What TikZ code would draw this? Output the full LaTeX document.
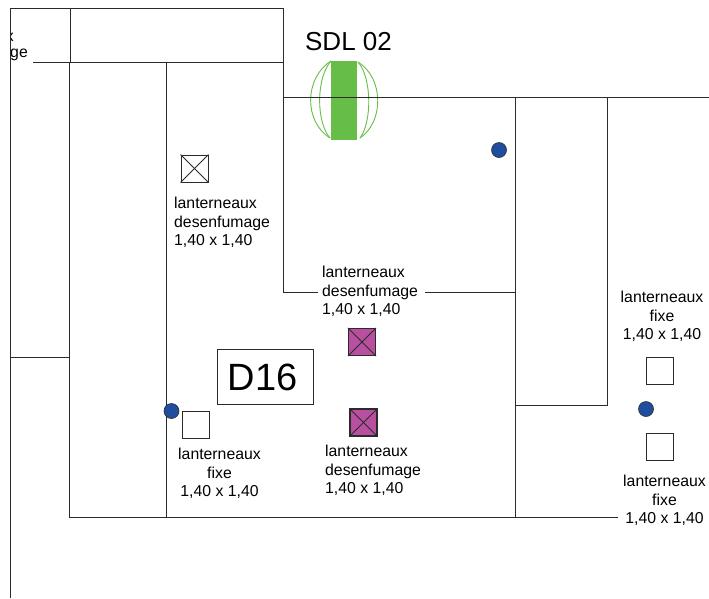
\documentclass[tikz,border=0pt]{standalone}
\usepackage{fontspec}
\setmainfont{Liberation Sans}
\definecolor{vent}{HTML}{66BD47}
\definecolor{plum}{HTML}{B8509F}
\definecolor{dotblue}{HTML}{1F4E9E}
\definecolor{wall}{HTML}{2B2B2B}
\tikzset{
    wall/.style = {draw = wall, line width = 1pt},
    roomlabel/.style = {font = \fontsize{15.8}{18.5}\selectfont, inner sep = 0pt, align = center},
    roomlabelleft/.style = {roomlabel, align = left},
    fixedbox/.style = {draw = wall, line width = 0.9pt, fill = white, minimum size = 27pt, inner sep = 0pt},
    plumbox/.style = {fixedbox, line width = 1.2pt, fill = plum},
    marker/.style = {circle, draw = wall, line width = 0.6pt, fill = dotblue, minimum size = 15pt, inner sep = 0pt},
    ventarc/.style = {draw = vent, line width = 0.9pt}
}
\begin{document}
\begin{tikzpicture}[x = 1pt, y = -1pt]
        \useasboundingbox (0,0) rectangle (709,598);
        \begin{scope}
            \clip (10,0) rectangle (60,70);
            \node[roomlabel, anchor = east] (cutx) at (14,37) {x};
            \node[roomlabel, anchor = east] (cutge) at (28,55) {ge};
        \end{scope}
        \draw[wall] (10,598) -- (10,8) -- (283,8);
        \draw[wall] (70,8) -- (70,62);
        \draw[wall, line width = 1.6pt] (69.5,62) -- (69.5,517);
        \draw[wall] (33,62) -- (283,62);
        \draw[wall] (283,8) -- (283,292) -- (318,292);
        \draw[wall] (425,292) -- (515,292);
        \draw[wall] (166,62) -- (166,517);
        \draw[wall] (10,357) -- (70,357);
        \draw[wall] (69,517) -- (618,517);
        \draw[wall] (515,97) -- (515,517);
        \draw[wall] (607,97) -- (607,405) -- (515,405);
        \fill[vent] (331,61) rectangle (357,140);
        \draw[ventarc] (331,61) .. controls (304,78) and (304,122) .. (330,138);
        \draw[ventarc] (331,61) .. controls (316,78) and (316,122) .. (330,138);
        \draw[ventarc] (358,62) .. controls (384,78) and (384,122) .. (360,138);
        \draw[ventarc] (358,62) .. controls (372,78) and (372,122) .. (360,138);
        \draw[wall] (283,97) -- (709,97);
        \node[font = \fontsize{26}{30}\selectfont, inner sep = 0pt] (sdl) at (348.5,42) {SDL 02};
        \node[draw = wall, line width = 0.9pt, minimum width = 96pt, minimum height = 55pt, inner sep = 0pt] (dsixteen) at (265,376.5) {};
        \node[font = \fontsize{38}{40}\selectfont, inner sep = 0pt] (dsixteentext) at (262.5,377) {D16};
        \node[fixedbox] (smokeleft) at (194.5,168.5) {};
        \node[plumbox] (plumtop) at (362,342) {};
        \node[plumbox] (plumbottom) at (363.5,422.5) {};
        \foreach \boxname in {smokeleft, plumtop, plumbottom} {
            \draw[wall] (\boxname.north west) -- (\boxname.south east);
            \draw[wall] (\boxname.north east) -- (\boxname.south west);
        }
        \node[fixedbox] (fixleft) at (195.5,424.5) {};
        \node[fixedbox] (fixtop) at (659.5,371) {};
        \node[fixedbox] (fixbottom) at (659.5,446.5) {};
        \node[marker] (dotroom) at (499,150) {};
        \node[marker] (dotwall) at (171.5,411) {};
        \node[marker] (dotright) at (646,409) {};
        \node[roomlabelleft, anchor = north west] (labelsmoke) at (174,197) {lanterneaux\\desenfumage\\1,40 x 1,40};
        \node[roomlabelleft, anchor = north west] (labelcentre) at (322,266) {lanterneaux\\desenfumage\\1,40 x 1,40};
        \node[roomlabelleft, anchor = north west] (labellower) at (325,445) {lanterneaux\\desenfumage\\1,40 x 1,40};
        \node[roomlabel, anchor = north] (labelfixleft) at (219.5,448) {lanterneaux\\fixe\\1,40 x 1,40};
        \node[roomlabel, anchor = north] (labelfixtop) at (662,291) {lanterneaux\\fixe\\1,40 x 1,40};
        \node[roomlabel, anchor = north] (labelfixbottom) at (664.5,475) {lanterneaux\\fixe\\1,40 x 1,40};
    \end{tikzpicture}
\end{document}
